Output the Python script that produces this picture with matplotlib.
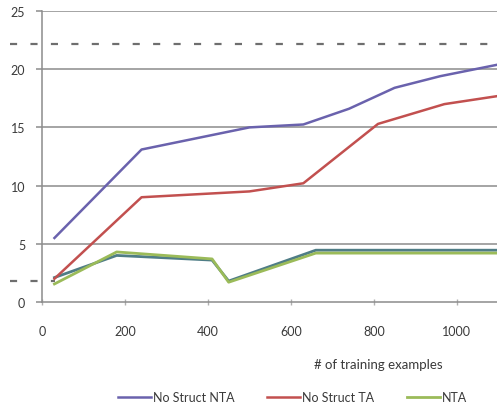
import matplotlib
matplotlib.use("Agg")
import matplotlib.pyplot as plt

plt.rcParams['font.family'] = ['Lato', 'DejaVu Sans']

# data
x_nta_ns = [30, 240, 500, 630, 740, 850, 960, 1100]
y_nta_ns = [5.5, 13.1, 15.0, 15.25, 16.6, 18.4, 19.4, 20.4]

x_ta_ns = [30, 240, 500, 630, 810, 970, 1100]
y_ta_ns = [2.0, 9.0, 9.5, 10.2, 15.3, 17.0, 17.7]

x_low = [30, 180, 410, 450, 660, 1100]
y_ta = [2.1, 4.0, 3.6, 1.8, 4.45, 4.45]
y_nta = [1.55, 4.3, 3.7, 1.7, 4.2, 4.2]

ref_lines = [22.2, 1.8]
ref_ends = [1.0, 0.02]   # the low one only shows left of the first point

x_ticks = [0, 200, 400, 600, 800, 1000]
y_ticks = [0, 5, 10, 15, 20, 25]

W, H = 497, 406
fig = plt.figure(figsize=(W / 100, H / 100), dpi=100)
# chart is cropped on the right: the axes run past the figure edge
ax = fig.add_axes([42 / W, 103 / H, 672 / W, 291 / H])

txt = '#3a3a3a'
grid = '#8c8c8c'

for v in y_ticks[1:]:
    ax.axhline(v, color=grid, lw=1.1, zorder=1)

for r, e in zip(ref_lines, ref_ends):
    ax.axhline(r, xmin=-32 / 672, xmax=e, color='#6e6e6e', lw=1.6,
               linestyle=(0, (3.2, 6)), clip_on=False, zorder=2)

ax.plot(x_low, y_ta, color='#4f7d86', lw=2.0, zorder=3)
ax.plot(x_low, y_nta, color='#9bbb59', lw=2.0, zorder=4, label='NTA')
ax.plot(x_nta_ns, y_nta_ns, color='#6a62ad', lw=1.8, zorder=5, label='No Struct NTA')
ax.plot(x_ta_ns, y_ta_ns, color='#c2504f', lw=1.8, zorder=5, label='No Struct TA')

ax.set_xlim(0, 1620)
ax.set_ylim(0, 25)
ax.set_xticks(x_ticks)
ax.set_yticks(y_ticks)

for s in ['top', 'right']:
    ax.spines[s].set_visible(False)
for s in ['left', 'bottom']:
    ax.spines[s].set_color(grid)
    ax.spines[s].set_linewidth(1.1)

ax.tick_params(axis='y', direction='out', length=4, width=1.1, color=grid,
               pad=8, labelsize=9, labelcolor=txt)
ax.tick_params(axis='x', direction='inout', length=5, width=1, color='#b0b0b0',
               pad=14, labelsize=9, labelcolor=txt)

ax.set_xlabel('# of training examples', fontsize=9.5, color=txt, labelpad=15)

handles, labels = ax.get_legend_handles_labels()
order = [1, 2, 0]
fig.legend([handles[i] for i in order], [labels[i] for i in order],
           loc='center left', bbox_to_anchor=(112 / W, 1 - 398 / H),
           ncol=3, frameon=False, fontsize=9, handlelength=2.6,
           handletextpad=0.2, columnspacing=2.6, borderpad=0,
           labelcolor=txt)

fig.savefig('out.png', dpi=100)
